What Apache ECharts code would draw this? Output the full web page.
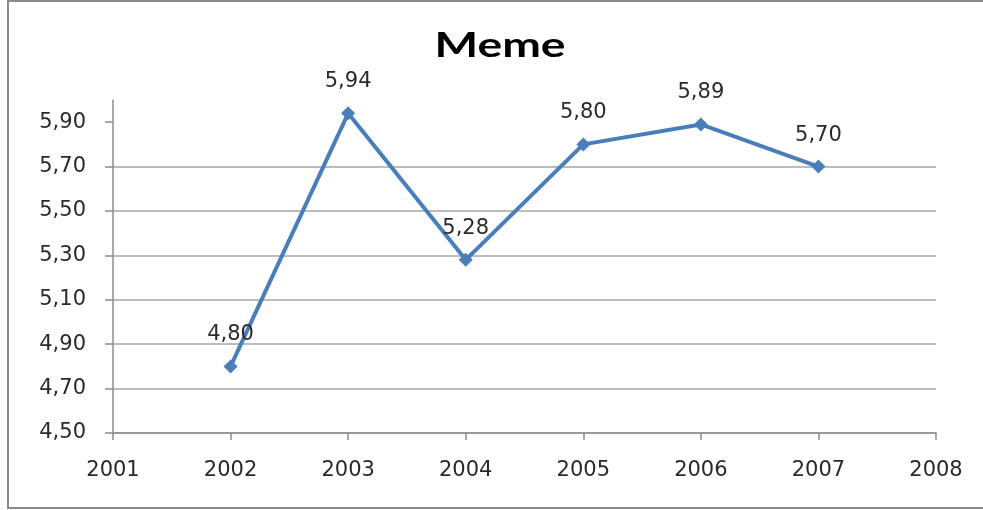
<!DOCTYPE html>
<html>
<head>
<meta charset="utf-8">
<script src="https://cdn.jsdelivr.net/npm/echarts@6/dist/echarts.min.js"></script>
<style>
  html, body { margin: 0; padding: 0; background: #fff; }
  #chart { width: 983px; height: 510px; }
</style>
</head>
<body>
<div id="chart"></div>
<script>
// Yearly values of the series
const years = [2002, 2003, 2004, 2005, 2006, 2007];
const values = [4.80, 5.94, 5.28, 5.80, 5.89, 5.70];
// Value-axis ticks shown on the left
const yTicks = [4.5, 4.7, 4.9, 5.1, 5.3, 5.5, 5.7, 5.9];
// Year ticks along the bottom
const xTicks = [2001, 2002, 2003, 2004, 2005, 2006, 2007, 2008];

const fmt = v => Number(v).toFixed(2).replace('.', ',');
const textFont = 'DejaVu Sans';

const chart = echarts.init(document.getElementById('chart'), null, { renderer: 'canvas' });
chart.setOption({
  backgroundColor: '#ffffff',
  animation: false,
  graphic: [{
    type: 'rect',
    shape: { x: 8, y: 1, width: 990, height: 507 },
    style: { fill: 'none', stroke: '#8a8a8a', lineWidth: 2 },
    silent: true
  }, {
    // chart title, widened to the face of the original heading
    type: 'text',
    x: 500,
    y: 46,
    scaleX: 1.32,
    style: {
      text: 'Meme',
      font: 'bold 35px Lato',
      fill: '#000',
      align: 'center',
      verticalAlign: 'middle'
    },
    silent: true
  }],
  grid: { left: 113, right: 47, top: 100, bottom: 77 },
  xAxis: {
    type: 'value',
    min: 2001,
    max: 2008,
    interval: 1,
    axisLine: { show: true, onZero: false, lineStyle: { color: '#8c8c8c', width: 1.5 } },
    axisTick: { show: true, length: 7, lineStyle: { color: '#8c8c8c', width: 1.5 }, customValues: xTicks },
    axisLabel: {
      customValues: xTicks,
      margin: 27,
      fontFamily: textFont, fontSize: 21, color: '#2a2a2a',
      formatter: v => String(v)
    },
    splitLine: { show: false }
  },
  yAxis: {
    type: 'value',
    min: 4.5,
    max: 6.0,
    axisLine: { show: true, lineStyle: { color: '#8c8c8c', width: 1.5 } },
    axisTick: { show: true, length: 8, lineStyle: { color: '#8c8c8c', width: 1.5 }, customValues: yTicks },
    axisLabel: {
      customValues: yTicks,
      margin: 27,
      fontFamily: textFont, fontSize: 21, color: '#2a2a2a',
      formatter: fmt
    },
    splitLine: { show: true, showMaxLine: false, lineStyle: { color: '#a6a6a6', width: 1.5 } }
  },
  series: [{
    type: 'line',
    data: years.map((y, i) => [y, values[i]]),
    symbol: 'diamond',
    symbolSize: 14,
    lineStyle: { color: '#4a7ebb', width: 4 },
    itemStyle: { color: '#4a7ebb' },
    label: {
      show: true,
      position: 'top',
      distance: 14,
      fontFamily: textFont, fontSize: 21, color: '#2a2a2a',
      formatter: p => fmt(p.value[1])
    }
  }]
});
</script>
</body>
</html>
